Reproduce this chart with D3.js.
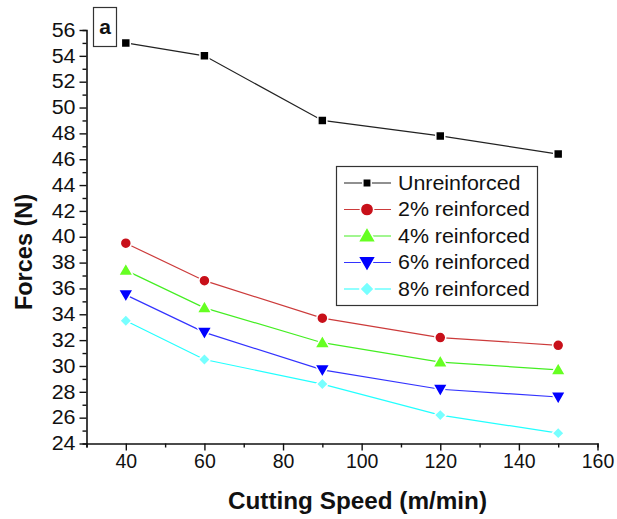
<!DOCTYPE html>
<html>
<head>
<meta charset="utf-8">
<script src="https://cdn.jsdelivr.net/npm/d3@7"></script>
<style>
html,body{margin:0;padding:0;background:#fff;}
svg{display:block;font-family:"Liberation Sans",Arial,sans-serif;}
svg text{font-family:"Liberation Sans",Arial,sans-serif;}
</style>
</head>
<body>
<svg id="chart" width="617" height="519"></svg>
<script>
const speeds = [40, 60, 90, 120, 150];
const seriesNames = ["Unreinforced", "2% reinforced", "4% reinforced", "6% reinforced", "8% reinforced"];
const unreinforced = [55.0, 54.0, 49.0, 47.8, 46.4];
const reinforced2 = [39.5, 36.6, 33.7, 32.2, 31.6];
const reinforced4 = [37.4, 34.5, 31.8, 30.3, 29.7];
const reinforced6 = [35.5, 32.6, 29.7, 28.2, 27.6];
const reinforced8 = [33.5, 30.5, 28.6, 26.2, 24.8];
const xTicks = [40, 60, 80, 100, 120, 140, 160];
const yTicks = [24, 26, 28, 30, 32, 34, 36, 38, 40, 42, 44, 46, 48, 50, 52, 54, 56];

const styles = [
  {line: "#222222", fill: "#000000", sym: d3.symbolSquare, size: 80, rot: 0},
  {line: "#cc3b3b", fill: "#c8101a", sym: d3.symbolCircle, size: 95, rot: 0},
  {line: "#44ee22", fill: "#66ff22", sym: d3.symbolTriangle, size: 95, rot: 0, dy: 1},
  {line: "#3333ff", fill: "#0000ff", sym: d3.symbolTriangle, size: 95, rot: 180, dy: -1},
  {line: "#22ffff", fill: "#77ffff", sym: d3.symbolSquare, size: 72, rot: 45}
];
const allValues = [unreinforced, reinforced2, reinforced4, reinforced6, reinforced8];

const svg = d3.select("#chart");
const x = d3.scaleLinear().domain([30, 160]).range([86.5, 597.5]);
const y = d3.scaleLinear().domain([24, 56]).range([443.5, 30]);

// Y axis
const yAxis = svg.append("g").attr("transform", `translate(${x(30)},0)`);
yAxis.call(d3.axisLeft(y).tickValues(d3.range(24, 57, 1)).tickSize(4).tickFormat(""));
yAxis.call(g => g.selectAll(".tick").filter(d => d % 2 === 0).select("line").attr("x2", -7));
const yLab = svg.append("g").attr("transform", `translate(${x(30)},0)`)
  .call(d3.axisLeft(y).tickValues(yTicks).tickSize(0).tickPadding(10).tickFormat(d3.format("d")));
yLab.select(".domain").remove();
yLab.selectAll("text").attr("font-size", 19.5).attr("fill", "#111")
  .attr("font-family", "'Liberation Sans', Arial, sans-serif")
  .attr("transform", "scale(1.1,1)");

// X axis
const xAxis = svg.append("g").attr("transform", `translate(0,${y(24)})`);
xAxis.call(d3.axisBottom(x).tickValues(d3.range(30, 161, 10)).tickSize(4).tickFormat(""));
xAxis.call(g => g.selectAll(".tick").filter(d => d % 20 === 0).select("line").attr("y2", 7));
const xLab = svg.append("g").attr("transform", `translate(0,${y(24)})`)
  .call(d3.axisBottom(x).tickValues(xTicks).tickSize(0).tickPadding(11).tickFormat(d3.format("d")));
xLab.select(".domain").remove();
xLab.selectAll("text").attr("font-size", 19.5).attr("fill", "#111")
  .attr("font-family", "'Liberation Sans', Arial, sans-serif");

[yAxis, xAxis].forEach(g => {
  g.select(".domain").attr("stroke", "#111").attr("stroke-width", 1.6);
  g.selectAll(".tick line").attr("stroke", "#111").attr("stroke-width", 1.4);
});

// Axis titles
svg.append("text").attr("x", 357.5).attr("y", 509).attr("text-anchor", "middle")
  .attr("font-size", 23).attr("font-weight", "bold").attr("fill", "#111")
  .attr("textLength", 259).attr("lengthAdjust", "spacingAndGlyphs")
  .text("Cutting Speed (m/min)");
svg.append("text").attr("transform", "translate(32,252) rotate(-90)").attr("text-anchor", "middle")
  .attr("font-size", 23.5).attr("font-weight", "bold").attr("fill", "#111")
  .text("Forces (N)");

// Series
const line = d3.line().x(d => x(d[0])).y(d => y(d[1]));
allValues.forEach((vals, i) => {
  const st = styles[i];
  const pts = speeds.map((s, j) => [s, vals[j]]);
  svg.append("path").attr("d", line(pts)).attr("fill", "none")
    .attr("stroke", st.line).attr("stroke-width", 1.2);
  svg.append("g").selectAll("path").data(pts).join("path")
    .attr("d", d3.symbol().type(st.sym).size(st.size))
    .attr("transform", d => `translate(${x(d[0])},${y(d[1]) + (st.dy || 0)}) rotate(${st.rot})`)
    .attr("fill", st.fill).attr("stroke", "#fff").attr("stroke-width", 1.5);
});

// Legend
const lg = svg.append("g");
lg.append("rect").attr("x", 336.5).attr("y", 166.5).attr("width", 201).attr("height", 139)
  .attr("fill", "#fff").attr("stroke", "#333").attr("stroke-width", 1.2);
seriesNames.forEach((name, i) => {
  const st = styles[i];
  const ry = 183 + i * 26.5;
  lg.append("line").attr("x1", 344).attr("x2", 391).attr("y1", ry).attr("y2", ry)
    .attr("stroke", st.line).attr("stroke-width", 1.2);
  lg.append("path").attr("d", d3.symbol().type(st.sym).size(i === 0 ? 70 : st.size * 1.45)())
    .attr("transform", `translate(367,${ry + (st.dy || 0)}) rotate(${st.rot})`)
    .attr("fill", st.fill).attr("stroke", "#fff").attr("stroke-width", 1.5);
  lg.append("text").attr("x", 398).attr("y", ry + 7).attr("font-size", 20).attr("fill", "#111")
    .attr("transform", `translate(398,0) scale(1.07,1) translate(-398,0)`)
    .text(name);
});

// Panel label
svg.append("rect").attr("x", 93.5).attr("y", 7.5).attr("width", 23).attr("height", 39)
  .attr("fill", "#fff").attr("stroke", "#333").attr("stroke-width", 1.2);
svg.append("text").attr("x", 105).attr("y", 34).attr("text-anchor", "middle")
  .attr("font-family", "'Liberation Sans', Arial, sans-serif")
  .attr("font-size", 21).attr("font-weight", "bold").attr("fill", "#111").text("a");
</script>
</body>
</html>
